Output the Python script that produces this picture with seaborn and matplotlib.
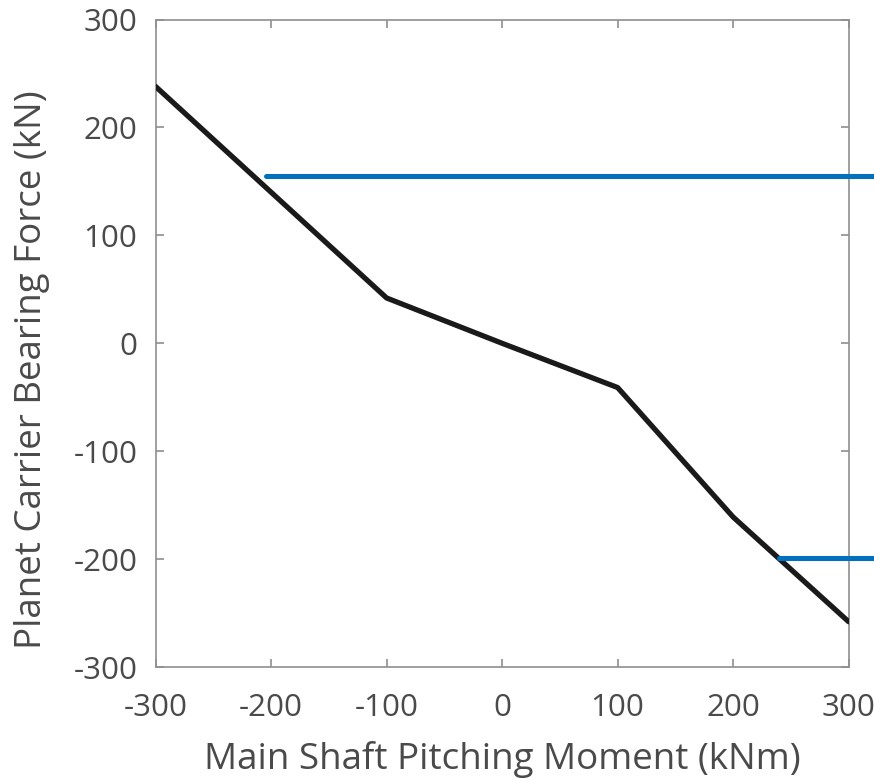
import matplotlib
matplotlib.use("Agg")
import matplotlib.pyplot as plt
import seaborn as sns
import pandas as pd

# Data
moment = [-300, -200, -100, 0, 100, 200, 300]
force = [238, 140, 42, 0, -41, -161, -258]

upper_limit_x = [-204, 325]
upper_limit_y = [155, 155]
lower_limit_x = [240, 325]
lower_limit_y = [-199, -199]

ticks = [-300, -200, -100, 0, 100, 200, 300]

sns.set_theme(style="white")
plt.rcParams['font.family'] = ['Open Sans', 'DejaVu Sans']

text_color = "#4a4a4a"
spine_color = "#8f8f8f"

fig = plt.figure(figsize=(8.74, 7.82), dpi=100)
ax = fig.add_axes([0.178, 0.147, 0.793, 0.828])

df = pd.DataFrame({"moment": moment, "force": force})
sns.lineplot(data=df, x="moment", y="force", sort=False, color="#1a1a1a",
             linewidth=3.8, ax=ax, zorder=3)
sns.lineplot(x=upper_limit_x, y=upper_limit_y, color="#0072bd",
             linewidth=3.6, ax=ax, clip_on=False, zorder=4)
sns.lineplot(x=lower_limit_x, y=lower_limit_y, color="#0072bd",
             linewidth=3.6, ax=ax, clip_on=False, zorder=4)

ax.set_xlim(-300, 300)
ax.set_ylim(-300, 300)
ax.set_xticks(ticks)
ax.set_yticks(ticks)
ax.set_xticklabels([str(t) for t in ticks])
ax.set_yticklabels([str(t) for t in ticks])

for s in ax.spines.values():
    s.set_visible(True)
    s.set_color(spine_color)
    s.set_linewidth(1.2)

ax.tick_params(axis="both", which="both", direction="in", length=6, width=1.2,
               color=spine_color, top=True, right=True, bottom=True, left=True,
               labelsize=22.5, labelcolor=text_color)
ax.tick_params(axis="x", pad=19)
ax.tick_params(axis="y", pad=13)

ax.set_xlabel("Main Shaft Pitching Moment (kNm)", fontsize=26.5, color=text_color, labelpad=13)
ax.set_ylabel("Planet Carrier Bearing Force (kN)", fontsize=26.5, color=text_color, labelpad=17)
ax.yaxis.label.set_y(0.46)
ax.grid(False)

fig.savefig("out.png", dpi=100)
